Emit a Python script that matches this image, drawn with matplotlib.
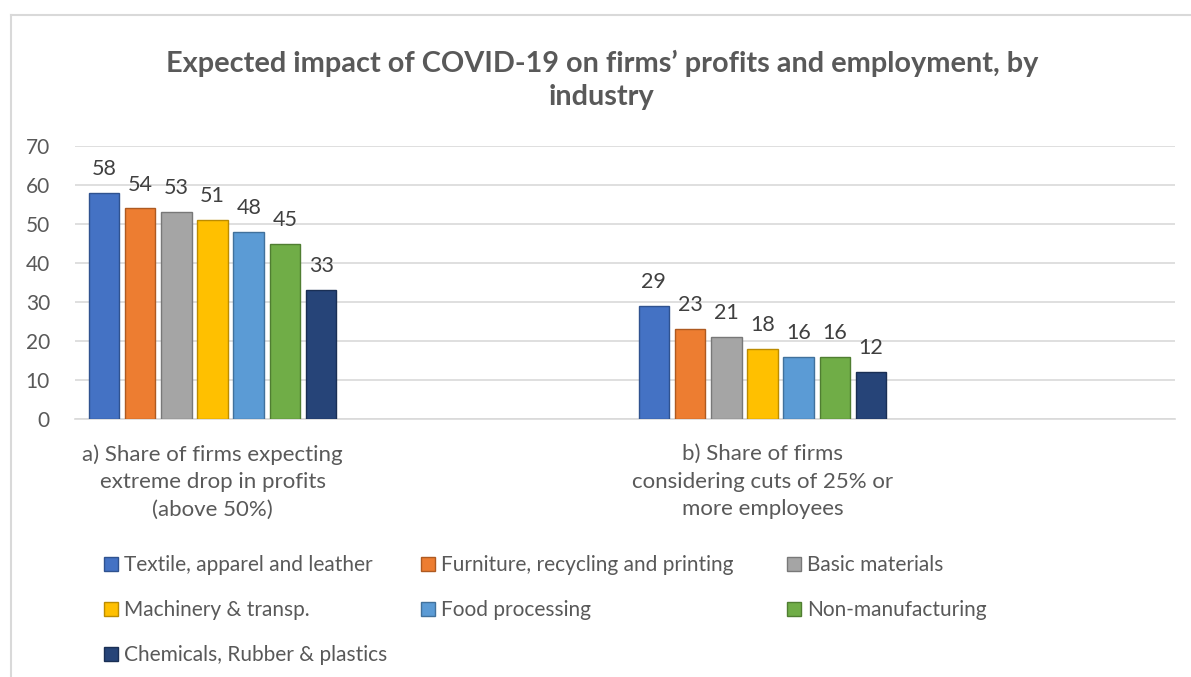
import matplotlib
matplotlib.use("Agg")
import matplotlib.pyplot as plt
import numpy as np

# ---- data ----
categories = ["a) Share of firms expecting\nextreme drop in profits\n(above 50%)",
              "",
              "b) Share of firms\nconsidering cuts of 25% or\nmore employees",
              ""]
series_names = ["Textile, apparel and leather",
                "Furniture, recycling and printing",
                "Basic materials",
                "Machinery & transp.",
                "Food processing",
                "Non-manufacturing",
                "Chemicals, Rubber & plastics"]
values_profits = [58, 54, 53, 51, 48, 45, 33]
values_employment = [29, 23, 21, 18, 16, 16, 12]
colors = ["#4472C4", "#ED7D31", "#A5A5A5", "#FFC000", "#5B9BD5", "#70AD47", "#264478"]
edge_colors = ["#2F528F", "#AE5A21", "#787878", "#BC8C00", "#41719C", "#507E32", "#1A2F54"]
yticks = [0, 10, 20, 30, 40, 50, 60, 70]
title = "Expected impact of COVID-19 on firms\u2019 profits and employment, by\nindustry"

FONT = ["Lato", "DejaVu Sans"]
plt.rcParams["font.family"] = FONT
txt = "#595959"

fig = plt.figure(figsize=(11.91, 6.77), dpi=100)
ax = fig.add_axes([75/1191, 1-419/677, 1100/1191, (419-146)/677])

x = np.arange(len(categories))
slot = 0.1317
width = 0.111
n = len(series_names)
handles = []
for i, name in enumerate(series_names):
    vals = [values_profits[i], np.nan, values_employment[i], np.nan]
    bars = ax.bar(x + (i - (n - 1) / 2) * slot, vals, width, color=colors[i],
                  edgecolor=edge_colors[i], linewidth=1.0, label=name, zorder=3)
    handles.append(bars)
    for b, v in zip(bars, vals):
        if not np.isnan(v):
            ax.annotate(f"{v:g}", (b.get_x() + b.get_width() / 2, v),
                        xytext=(0, 10), textcoords="offset points",
                        ha="center", va="bottom", fontsize=15.5, color="#404040")

ax.set_xlim(-0.5, 3.5)
ax.set_ylim(0, 70)
ax.set_yticks(yticks)
ax.set_xticks(x)
ax.set_xticklabels(categories, fontsize=16, color=txt, linespacing=1.47)
ax.tick_params(axis="y", length=0, pad=18, labelsize=15, labelcolor=txt)
ax.tick_params(axis="x", length=0, pad=18)
ax.grid(axis="y", color="#D9D9D9", linewidth=1.2, zorder=0)
for s in ["top", "right", "left"]:
    ax.spines[s].set_visible(False)
ax.spines["bottom"].set_color("#D9D9D9")
ax.spines["bottom"].set_linewidth(1.2)

fig.text(602/1191, 1-80/677, title, ha="center", va="center", fontsize=20.8,
         fontweight="bold", color=txt, linespacing=1.32)

# legend laid out row-wise in three columns, as in the reference
columns = [[0, 3, 6], [1, 4], [2, 5]]
col_x = [104, 421, 787]
for idx, cx in zip(columns, col_x):
    fig.legend([handles[k] for k in idx], [series_names[k] for k in idx],
               ncol=1, loc="upper left", bbox_to_anchor=(cx/1191, 1-555/677),
               frameon=False, fontsize=15, handlelength=0.65, handleheight=0.65,
               handletextpad=0.3, labelspacing=1.2,
               labelcolor=txt, borderaxespad=0, borderpad=0)

# chart border (left and top)
fig.add_artist(plt.Line2D([11/1191, 11/1191], [0, 1-15/677], color="#D9D9D9", lw=1.5))
fig.add_artist(plt.Line2D([11/1191, 1], [1-15/677, 1-15/677], color="#D9D9D9", lw=1.5))

fig.savefig("out.png", dpi=100)
